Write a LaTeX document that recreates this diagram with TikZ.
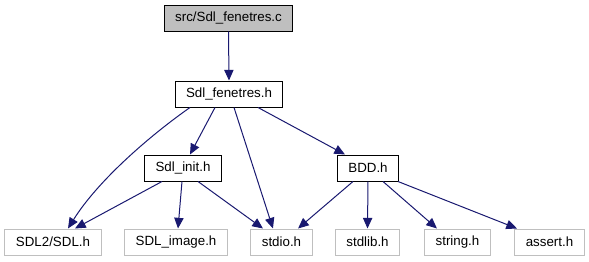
\documentclass[tikz,border=0pt]{standalone}
\usepackage{fontspec}
\setmainfont{Liberation Sans}
\usetikzlibrary{arrows.meta}
\definecolor{edgeblue}{HTML}{191970}
\definecolor{boxgray}{HTML}{BFBFBF}
\begin{document}
\begin{tikzpicture}[x=0.75pt,y=-0.75pt,
  file/.style={draw=black,line width=0.75pt,fill=white,minimum height=19.5pt,
    inner xsep=8.25pt,inner ysep=0pt,font=\fontsize{10pt}{12pt}\selectfont},
  root/.style={file,fill=boxgray},
  ext/.style={file,draw=boxgray},
  dep/.style={draw=edgeblue,line width=0.75pt,
    -{Triangle[length=8pt,width=7pt,fill=edgeblue]}}]
\useasboundingbox (0,0) rectangle (589,261);

% files
\node[root] (src) at (228.5,18) {src/Sdl\_fenetres.c};
\node[file] (fen) at (229,94) {Sdl\_fenetres.h};
\node[file] (init) at (183,168) {Sdl\_init.h};
\node[file] (bdd) at (368,168) {BDD.h};
\node[ext] (sdl) at (53,242) {SDL2/SDL.h};
\node[ext] (img) at (176,242) {SDL\_image.h};
\node[ext] (stdio) at (281.5,242) {stdio.h};
\node[ext] (stdlib) at (367.5,242) {stdlib.h};
\node[ext] (string) at (457.5,242) {string.h};
\node[ext] (assert) at (549.5,242) {assert.h};

% include edges
\draw[dep] (src.south) -- (fen.north);
\draw[dep] ([xshift=-29.25pt]fen.south) .. controls +(-40,28) and +(30,-48) .. ([xshift=11.25pt]sdl.north);
\draw[dep] ([xshift=-10.5pt]fen.south) -- ([xshift=5.25pt]init.north);
\draw[dep] ([xshift=3.75pt]fen.south) -- ([xshift=-6.4pt]stdio.north);
\draw[dep] ([xshift=21.75pt]fen.south) -- ([xshift=-17.25pt]bdd.north);
\draw[dep] ([xshift=-15.75pt]init.south) -- ([xshift=16.5pt]sdl.north);
\draw[dep] ([xshift=-0.75pt]init.south) -- ([xshift=1.5pt]img.north);
\draw[dep] ([xshift=11.25pt]init.south) -- ([xshift=-13.9pt]stdio.north);
\draw[dep] ([xshift=-11.25pt]bdd.south) -- ([xshift=12.4pt]stdio.north);
\draw[dep] (bdd.south) -- (stdlib.north);
\draw[dep] ([xshift=11.25pt]bdd.south) -- ([xshift=-15.4pt]string.north);
\draw[dep] ([xshift=22.5pt]bdd.south) -- ([xshift=-24.4pt]assert.north);
\end{tikzpicture}
\end{document}
